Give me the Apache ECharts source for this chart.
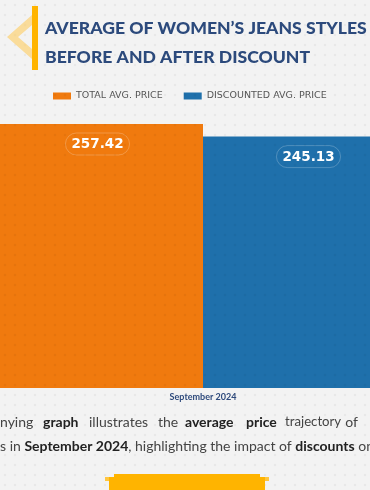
<!DOCTYPE html>
<html>
<head>
<meta charset="utf-8">
<script src="https://cdn.jsdelivr.net/npm/echarts@6/dist/echarts.min.js"></script>
<style>
html,body{margin:0;padding:0;background:#f3f3f3;}
#chart{width:370px;height:490px;}
</style>
</head>
<body>
<div id="chart"></div>
<script>
var categories = ['September 2024'];
var seriesNames = ['TOTAL AVG. PRICE', 'DISCOUNTED AVG. PRICE'];
var totalAvgPrice = [257.42];
var discountedAvgPrice = [245.13];

var dotCanvas = document.createElement('canvas');
dotCanvas.width = 10; dotCanvas.height = 10;
var dctx = dotCanvas.getContext('2d');
dctx.fillStyle = 'rgba(0,0,0,0.045)';
dctx.beginPath(); dctx.arc(5, 5, 1.3, 0, Math.PI * 2); dctx.fill();

var chart = echarts.init(document.getElementById('chart'), null, {renderer: 'canvas'});
var labelStyle = {
  show: true, position: 'insideTop', distance: 9,
  color: '#ffffff', fontWeight: 'bold', fontSize: 13.5, fontFamily: 'DejaVu Sans',
  borderColor: 'rgba(255,255,255,0.22)', borderWidth: 1, borderRadius: 11,
  padding: [4, 6, 3, 6], lineHeight: 15
};
chart.setOption({
  backgroundColor: '#f3f3f3',
  animation: false,
  legend: {
    top: 86, left: 48, itemWidth: 18, itemHeight: 7, itemGap: 21,
    icon: 'rect',
    textStyle: {fontSize: 9.5, color: '#555', fontFamily: 'DejaVu Sans'},
    data: seriesNames
  },
  grid: {left: 36, right: 0, top: 124, bottom: 102},
  xAxis: {
    type: 'category', data: categories,
    axisLine: {show: false},
    axisTick: {show: false},
    axisLabel: {color: '#2e4a7c', fontWeight: 'bold', fontSize: 9, fontFamily: 'Lato', margin: 5}
  },
  yAxis: {type: 'value', min: 0, max: 'dataMax', show: false, splitLine: {show: false}},
  series: [
    {name: seriesNames[0], type: 'bar', data: totalAvgPrice, barWidth: 211, barGap: '0%', clip: false,
     itemStyle: {color: '#f07a0e'}, label: labelStyle},
    {name: seriesNames[1], type: 'bar', data: discountedAvgPrice, barWidth: 211, clip: false,
     itemStyle: {color: '#1f70ab'}, label: labelStyle}
  ],
  graphic: [
    {type: 'rect', silent: true, z: 50, shape: {x: 0, y: 0, width: 370, height: 490},
     style: {fill: {image: dotCanvas, repeat: 'repeat'}}},
    {type: 'polygon', silent: true, z: 60,
     shape: {points: [[32, 15], [7, 37], [32, 59], [32, 49], [18, 37], [32, 25]]},
     style: {fill: 'rgba(255,200,80,0.55)'}},
    {type: 'rect', silent: true, z: 61, shape: {x: 32, y: 6, width: 6, height: 64},
     style: {fill: '#ffb400'}},
    {type: 'text', silent: true, z: 61, x: 45, y: 14,
     style: {text: 'AVERAGE OF WOMEN\u2019S JEANS STYLES\nBEFORE AND AFTER DISCOUNT',
             fill: '#2c4a7c', font: '900 17.6px Lato', lineHeight: 29}},
    {type: 'group', silent: true, z: 61, children: [
      {type: 'text', x: 0, y: 415, style: {text: 'nying', fill: '#444', font: '14px Lato'}},
      {type: 'text', x: 43, y: 415, style: {text: 'graph', fill: '#222', font: 'bold 14px Lato'}},
      {type: 'text', x: 89, y: 415, style: {text: 'illustrates', fill: '#444', font: '14px Lato'}},
      {type: 'text', x: 158, y: 415, style: {text: 'the', fill: '#444', font: '14px Lato'}},
      {type: 'text', x: 185, y: 415, style: {text: 'average', fill: '#222', font: 'bold 14px Lato'}},
      {type: 'text', x: 246, y: 415, style: {text: 'price', fill: '#222', font: 'bold 14px Lato'}},
      {type: 'text', x: 285, y: 415, style: {text: 'trajectory', fill: '#444', font: '13.2px Lato'}},
      {type: 'text', x: 358, y: 415, style: {text: 'of', fill: '#444', font: '14px Lato', align: 'right'}}
    ]},
    {type: 'text', silent: true, z: 61, x: 0, y: 439,
     style: {text: 's in {b|September 2024}, highlighting the impact of {b|discounts} on',
             fill: '#444', font: '14px Lato',
             rich: {b: {fontWeight: 'bold', fill: '#222', fontSize: 14, fontFamily: 'Lato'}}}},
    {type: 'rect', silent: true, z: 61, shape: {x: 114, y: 474, width: 146, height: 20}, style: {fill: '#ffb400'}},
    {type: 'rect', silent: true, z: 61, shape: {x: 109, y: 477, width: 5, height: 20}, style: {fill: '#ffb400'}},
    {type: 'rect', silent: true, z: 61, shape: {x: 260, y: 477, width: 5, height: 20}, style: {fill: '#ffb400'}},
    {type: 'rect', silent: true, z: 61, shape: {x: 105, y: 477, width: 4, height: 4}, style: {fill: '#ffc640'}},
    {type: 'rect', silent: true, z: 61, shape: {x: 265, y: 477, width: 4, height: 4}, style: {fill: '#ffc640'}}
  ]
});
</script>
</body>
</html>
